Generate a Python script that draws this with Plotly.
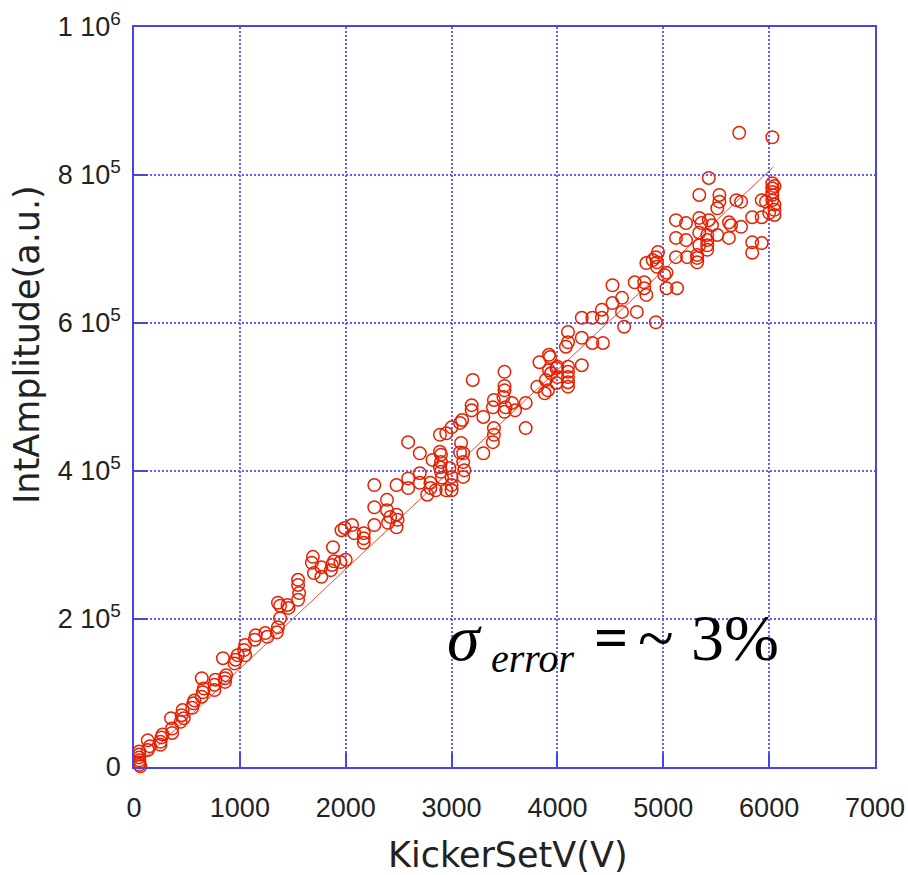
import plotly.graph_objects as go

# Kicker set voltage (V) for each measurement
volts = [
    50, 50, 50, 50, 50, 50, 60, 130, 130, 150,
    250, 250, 260, 270, 360, 360, 350, 440, 450, 460, 470,
    550, 560, 570, 640, 650, 640, 660, 760, 760, 770, 860, 860, 870,
    950, 960, 980, 840, 1050, 1050, 1040,
    1140, 1150, 1240, 1260,
    1350, 1360, 1380, 1360, 1380, 1450, 1460, 1550, 1560, 1550, 1550,
    1680, 1690, 1700, 1770, 1770, 1860, 1870, 1880, 1890, 1950, 1960, 1990, 2000, 2060, 2080,
    2170, 2170, 2170, 2270, 2270, 2270,
    2390, 2390, 2420, 2480, 2490, 2480, 2400, 2480, 2590, 2590, 2590,
    2700, 2700, 2700, 2800, 2820, 2800, 2770, 2850, 2890, 2900, 2900, 2900, 2910, 2950, 2890, 2890,
    2950, 3000, 2980, 3000, 3000, 3000, 3090, 3110, 3110, 3120, 3110, 3080, 3100, 3080,
    3200, 3190, 3190, 3300, 3300,
    3400, 3390, 3400, 3400, 3390,
    3500, 3500, 3490, 3510, 3570, 3600, 3700, 3700, 3500, 3500,
    3830, 3920, 3920, 3890, 3810, 3910, 3990, 3990, 3930, 3940, 3880,
    4000, 4000,
    4100, 4100, 4100, 4100, 4100, 4080, 4100, 4100, 4230, 4230, 4330, 4430,
    4230, 4330, 4420, 4420, 4520, 4520, 4610, 4610, 4630, 4750, 4820, 4820, 4840, 4730,
    4930, 4940, 4940, 4840, 5030, 5030, 4930, 4900, 4950, 5010,
    5120, 5215, 5340, 5360, 5430, 5460, 5620, 5640, 5735,
    5120, 5215, 5340, 5415, 5415, 5415, 5415, 5340, 5320, 5225, 5120, 5510, 5620, 5320, 5320,
    5340, 5530, 5530, 5510, 5690, 5735, 5430,
    5840, 5840, 5930, 5840, 5930, 5717, 6030,
    6030, 6030, 6030, 6030, 6030, 6050, 6050, 6000, 5970, 5930, 6050, 6050, 5130,
]

# Integrated amplitude (a.u.) for each measurement
amps = [
    3e3, 6e3, 9e3, 13e3, 17e3, 21e3, 1e3, 23e3, 36e3, 28e3,
    30e3, 34e3, 40e3, 44e3, 46e3, 52e3, 66e3, 61e3, 70e3, 77e3, 66e3,
    80e3, 86e3, 90e3, 95e3, 101e3, 120e3, 106e3, 104e3, 111e3, 118e3, 115e3, 120e3, 124e3,
    140e3, 145e3, 151e3, 147e3, 151e3, 165e3, 158e3,
    172e3, 178e3, 181e3, 176e3,
    182e3, 189e3, 201e3, 222e3, 218e3, 219e3, 215e3, 226e3, 235e3, 246e3, 253e3,
    276e3, 284e3, 262e3, 270e3, 257e3, 266e3, 273e3, 297e3, 278e3, 277e3, 320e3, 323e3, 280e3, 327e3, 316e3,
    316e3, 309e3, 303e3, 327e3, 351e3, 381e3,
    361e3, 347e3, 338e3, 341e3, 334e3, 324e3, 330e3, 381e3, 390e3, 377e3, 439e3,
    424e3, 397e3, 384e3, 384e3, 415e3, 377e3, 368e3, 374e3, 449e3, 422e3, 412e3, 399e3, 391e3, 374e3, 426e3, 405e3,
    451e3, 459e3, 404e3, 392e3, 381e3, 374e3, 438e3, 424e3, 412e3, 401e3, 392e3, 425e3, 469e3, 465e3,
    523e3, 489e3, 482e3, 473e3, 424e3,
    496e3, 486e3, 458e3, 449e3, 439e3,
    534e3, 509e3, 500e3, 486e3, 492e3, 482e3, 492e3, 458e3, 515e3, 480e3,
    547e3, 557e3, 536e3, 523e3, 514e3, 509e3, 539e3, 519e3, 554e3, 532e3, 505e3,
    541e3, 527e3,
    541e3, 534e3, 527e3, 520e3, 514e3, 568e3, 574e3, 588e3, 543e3, 580e3, 573e3, 573e3,
    607e3, 607e3, 618e3, 607e3, 627e3, 651e3, 634e3, 615e3, 595e3, 615e3, 655e3, 647e3, 638e3, 655e3,
    689e3, 682e3, 676e3, 681e3, 668e3, 647e3, 601e3, 685e3, 696e3, 665e3,
    739e3, 735e3, 742e3, 735e3, 739e3, 732e3, 736e3, 732e3, 730e3,
    715e3, 712e3, 722e3, 719e3, 712e3, 705e3, 699e3, 705e3, 692e3, 689e3, 689e3, 719e3, 715e3, 682e3, 688e3,
    773e3, 773e3, 764e3, 755e3, 766e3, 764e3, 796e3,
    709e3, 695e3, 708e3, 743e3, 766e3, 857e3, 851e3,
    789e3, 782e3, 777e3, 773e3, 766e3, 753e3, 746e3, 749e3, 764e3, 743e3, 760e3, 785e3, 647e3,
]

# Linear fit endpoints
fit_v = [50, 6040]
fit_a = [5e3, 811e3]

x_ticks = [0, 1000, 2000, 3000, 4000, 5000, 6000, 7000]
y_ticks = [0, 2e5, 4e5, 6e5, 8e5, 1e6]
y_ticktext = ["0", "2 10<sup>5</sup>", "4 10<sup>5</sup>", "6 10<sup>5</sup>",
              "8 10<sup>5</sup>", "1 10<sup>6</sup>"]

RED = "#e82000"
FRAME = "#4646e6"
GRID = "rgb(95,95,255)"
INK = "#222222"
SERIF = "Liberation Serif, Times New Roman, serif"

# Plot area in pixels, used to place the free-standing labels
W, H = 908, 875
L, R, T, B = 134, 33, 27, 108
PW, PH = W - L - R, H - T - B


def px_to_paper(px, py):
    return (px - L) / PW, (H - B - py) / PH


fig = go.Figure()
fig.add_trace(go.Scatter(
    x=fit_v, y=fit_a, mode="lines",
    line=dict(color=RED, width=0.8), showlegend=False, hoverinfo="skip",
))
fig.add_trace(go.Scatter(
    x=volts, y=amps, mode="markers",
    marker=dict(symbol="circle-open", size=12.5, color=RED, line=dict(width=1.5, color=RED)),
    cliponaxis=False, showlegend=False,
))

axis_common = dict(
    showline=True, linecolor=FRAME, linewidth=1.5, mirror=True,
    ticks="inside", ticklen=14, tickwidth=1.5, tickcolor=FRAME,
    showgrid=True, gridcolor=GRID, gridwidth=1.6, griddash="2px,2px",
    zeroline=False, automargin=False,
    tickfont=dict(family="Liberation Sans, Arial, sans-serif", size=27, color=INK),
)

fig.update_xaxes(range=[0, 7000], tickvals=x_ticks, ticklabelstandoff=16, **axis_common)
fig.update_yaxes(range=[0, 1e6], tickvals=y_ticks, ticktext=y_ticktext,
                 ticklabelstandoff=6, **axis_common)

# Axis titles
fx, fy = px_to_paper(508, 855)
fig.add_annotation(
    text="KickerSetV(V)", xref="paper", yref="paper", x=fx, y=fy,
    xanchor="center", yanchor="middle", showarrow=False,
    font=dict(family="DejaVu Sans, sans-serif", size=35, color=INK),
)
fx, fy = px_to_paper(27, 345)
fig.add_annotation(
    text="IntAmplitude(a.u.)", xref="paper", yref="paper", x=fx, y=fy,
    xanchor="center", yanchor="middle", textangle=-90, showarrow=False,
    font=dict(family="DejaVu Sans, sans-serif", size=35, color=INK),
)

# Error note, sigma_error = ~ 3%
note_parts = [
    ("<i>σ</i>", 445, 637, 66),
    ("<i>error</i>", 489, 658, 40),
    ("<b>=</b>", 592, 637, 60),
    ("~", 636, 637, 66),
    ("3%", 689, 637, 66),
]
for txt, px, py, size in note_parts:
    fx, fy = px_to_paper(px, py)
    fig.add_annotation(
        text=txt, xref="paper", yref="paper", x=fx, y=fy,
        xanchor="left", yanchor="middle", showarrow=False,
        font=dict(family=SERIF, size=size, color="#000000"),
    )

fig.update_layout(
    width=W, height=H,
    margin=dict(l=L, r=R, t=T, b=B, autoexpand=False),
    paper_bgcolor="white", plot_bgcolor="white",
)

fig.write_html("out.html")
